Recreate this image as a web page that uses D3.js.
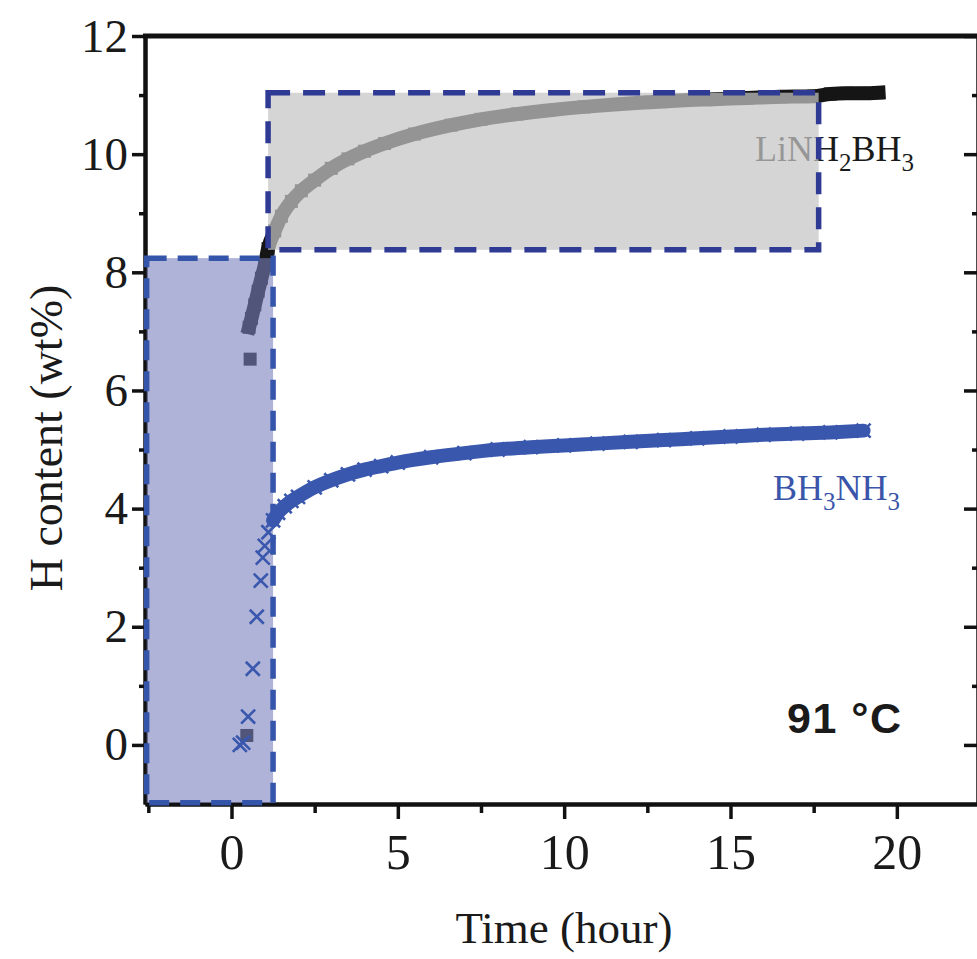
<!DOCTYPE html>
<html><head><meta charset="utf-8">
<script src="https://cdn.jsdelivr.net/npm/d3@7"></script>
<style>body{margin:0;background:#fff}svg{display:block}</style>
</head><body>
<svg id="chart" width="977" height="959"></svg>
<script>
// ---- data ----
const liTime = [0.46, 0.56, 0.53, 0.6, 0.7, 0.8, 0.9, 1.0, 1.1, 1.3, 1.5, 1.8, 2.1, 2.5, 3.0, 3.5, 4.0, 4.6, 5.5, 6.6, 7.5, 8.6, 9.5, 10.6, 11.5, 12.6, 13.5, 14.5, 15.5, 16.5, 17.5, 18.0, 18.5, 19.0, 19.45];
const liH    = [0.16, 6.53, 7.07, 7.22, 7.45, 7.68, 7.9, 8.12, 8.4, 8.7, 8.95, 9.2, 9.38, 9.56, 9.76, 9.92, 10.05, 10.18, 10.34, 10.49, 10.59, 10.68, 10.74, 10.8, 10.84, 10.88, 10.91, 10.93, 10.95, 10.97, 10.98, 11.02, 11.03, 11.03, 11.04];
const abTime = [0.25, 0.35, 0.5, 0.64, 0.76, 0.88, 0.94, 1.0, 1.11, 1.25, 1.4, 1.6, 1.8, 2.0, 2.5, 3.0, 3.5, 4.0, 4.5, 5.0, 6.0, 7.0, 8.0, 9.0, 10.0, 11.0, 12.0, 13.0, 14.0, 15.0, 16.0, 17.0, 18.0, 19.0];
const abH    = [0.0, 0.04, 0.48, 1.29, 2.17, 2.78, 3.17, 3.37, 3.6, 3.8, 3.93, 4.04, 4.13, 4.2, 4.36, 4.48, 4.58, 4.66, 4.72, 4.78, 4.87, 4.94, 5.0, 5.04, 5.07, 5.1, 5.13, 5.16, 5.19, 5.22, 5.25, 5.27, 5.29, 5.32];
// index from which the recorded points are so dense that they merge into a band
const liBandFrom = 2;
const abBandFrom = 9;
const xTicks = [0, 5, 10, 15, 20];
const xMinorTicks = [-2.5, 2.5, 7.5, 12.5, 17.5];
const yTicks = [0, 2, 4, 6, 8, 10, 12];
const yMinorTicks = [1, 3, 5, 7, 9, 11];
// highlighted regions: [t0, t1, h0, h1]
const regionGray = [1.1, 17.65, 8.38, 11.04];
const regionBlue = [-2.55, 1.25, -0.98, 8.24];
const xTitle = "Time (hour)";
const yTitle = "H content (wt%)";
const tempLabel = "91 °C";

// ---- layout ----
const svg = d3.select("#chart");
const x = d3.scaleLinear().domain([-2.6, 22.5]).range([145, 980]);
const y = d3.scaleLinear().domain([-1, 12]).range([804, 36]);
const serif = "'Liberation Serif','Times New Roman',serif";

// axes
const gL = svg.append("g").attr("transform", `translate(${x(-2.6)},0)`)
  .call(d3.axisLeft(y).tickValues(yTicks).tickSize(13).tickSizeOuter(0).tickPadding(4).tickFormat(d3.format("d")));
const gLm = svg.append("g").attr("transform", `translate(${x(-2.6)},0)`)
  .call(d3.axisLeft(y).tickValues(yMinorTicks).tickSize(6).tickSizeOuter(0).tickFormat(""));
const gB = svg.append("g").attr("transform", `translate(0,${y(-1)})`)
  .call(d3.axisBottom(x).tickValues(xTicks).tickSize(15).tickSizeOuter(0).tickPadding(14).tickFormat(d3.format("d")));
const gBm = svg.append("g").attr("transform", `translate(0,${y(-1)})`)
  .call(d3.axisBottom(x).tickValues(xMinorTicks).tickSize(9).tickSizeOuter(0).tickFormat(""));
const gR = svg.append("g").attr("transform", `translate(${x(22.5) - 2},0)`)
  .call(d3.axisRight(y).tickValues(yTicks).tickSize(-14).tickSizeOuter(0).tickFormat(""));
const gRm = svg.append("g").attr("transform", `translate(${x(22.5) - 2},0)`)
  .call(d3.axisRight(y).tickValues(yMinorTicks).tickSize(-6).tickSizeOuter(0).tickFormat(""));
[gL, gLm, gB, gBm, gR, gRm].forEach(g => {
  g.select(".domain").attr("stroke", "#111").attr("stroke-width", 4);
  g.selectAll(".tick line").attr("stroke", "#111").attr("stroke-width", 3.5);
});
gL.selectAll(".tick text").attr("font-family", serif).attr("font-size", 47).attr("fill", "#1a1a1a");
gB.selectAll(".tick text").attr("font-family", serif).attr("font-size", 50).attr("fill", "#1a1a1a");
svg.append("line").attr("x1", x(-2.6) - 2).attr("x2", 977).attr("y1", y(12)).attr("y2", y(12))
  .attr("stroke", "#111").attr("stroke-width", 5);

// titles
svg.append("text").attr("x", 564).attr("y", 943).attr("text-anchor", "middle")
  .attr("font-family", serif).attr("font-size", 45).attr("fill", "#1a1a1a").text(xTitle);
svg.append("text").attr("transform", "translate(62,438) rotate(-90)").attr("text-anchor", "middle")
  .attr("font-family", serif).attr("font-size", 46).attr("fill", "#1a1a1a").text(yTitle);

const line = d3.line().x(d => d[0]).y(d => d[1]).curve(d3.curveMonotoneX);

// LiNH2BH3 squares (black), later tinted by the overlays
const liPts = liTime.map((t, i) => [x(t), y(liH[i])]);
const gLi = svg.append("g");
gLi.append("path").attr("d", line(liPts.slice(liBandFrom))).attr("fill", "none").attr("stroke", "#151515")
  .attr("stroke-width", 14).attr("stroke-linecap", "square").attr("stroke-linejoin", "round");
gLi.selectAll("rect").data(liPts).join("rect")
  .attr("x", d => d[0] - 6.5).attr("y", d => d[1] - 6.5).attr("width", 13).attr("height", 13).attr("fill", "#151515");

// LiNH2BH3 label
const t1 = svg.append("text").attr("x", 755).attr("y", 161).attr("font-family", serif).attr("font-size", 36).attr("fill", "#1a1a1a");
t1.append("tspan").text("LiNH");
t1.append("tspan").attr("font-size", 25).attr("dy", 10).text("2");
t1.append("tspan").attr("dy", -10).text("BH");
t1.append("tspan").attr("font-size", 25).attr("dy", 10).text("3");

// highlight regions
function region(r, fill, op, stroke, dash) {
  svg.append("rect").attr("x", x(r[0])).attr("y", y(r[3]))
    .attr("width", x(r[1]) - x(r[0])).attr("height", y(r[2]) - y(r[3]))
    .attr("fill", fill).attr("fill-opacity", op)
    .attr("stroke", stroke).attr("stroke-width", 5.5).attr("stroke-dasharray", dash);
}
region(regionGray, "#c4c5c4", 0.725, "#2f3a94", "22,13");
region(regionBlue, "#7a80bc", 0.6, "#3455aa", "20,11");

// BH3NH3 crosses (blue)
const blue = "#3a57ae";
const abPts = abTime.map((t, i) => [x(t), y(abH[i])]);
const gAb = svg.append("g");
gAb.append("path").attr("d", line(abPts.slice(abBandFrom))).attr("fill", "none").attr("stroke", blue)
  .attr("stroke-width", 14).attr("stroke-linecap", "round");
gAb.selectAll("path.x").data(abPts).join("path").attr("class", "x")
  .attr("d", d => `M${d[0]-7},${d[1]-7}L${d[0]+7},${d[1]+7}M${d[0]-7},${d[1]+7}L${d[0]+7},${d[1]-7}`)
  .attr("stroke", blue).attr("stroke-width", 2.6).attr("fill", "none");

const t2 = svg.append("text").attr("x", 773).attr("y", 500).attr("font-family", serif).attr("font-size", 36).attr("fill", "#3a55aa");
t2.append("tspan").text("BH");
t2.append("tspan").attr("font-size", 25).attr("dy", 10).text("3");
t2.append("tspan").attr("dy", -10).text("NH");
t2.append("tspan").attr("font-size", 25).attr("dy", 10).text("3");

svg.append("text").attr("x", 787).attr("y", 733).attr("font-family", "'Liberation Sans',Arial,sans-serif")
  .attr("font-weight", "bold").attr("font-size", 43).attr("letter-spacing", 1.5).attr("fill", "#1a1a1a").text(tempLabel);
</script>
</body></html>
